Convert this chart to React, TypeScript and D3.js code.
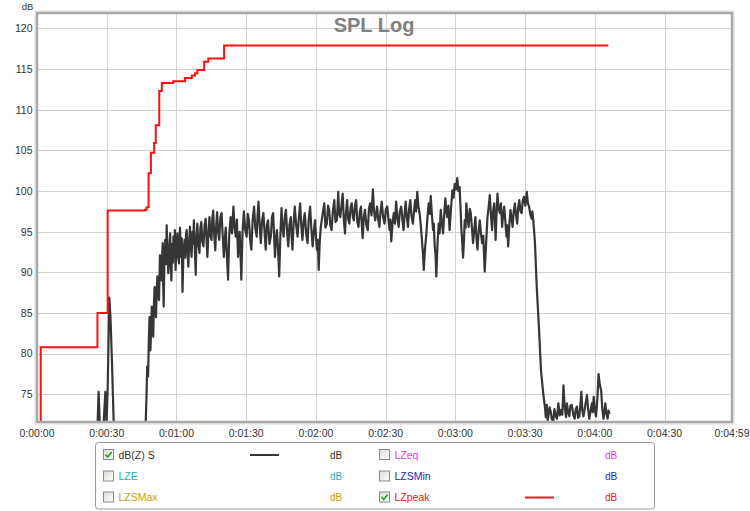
import React from 'react';
import * as d3 from 'd3';

const W = 750;
const H = 511;

// Axis ticks
const yTicks = [75, 80, 85, 90, 95, 100, 105, 110, 115, 120];
const xTicks = [0, 30, 60, 90, 120, 150, 180, 210, 240, 270, 299];
const xTickLabels = ['0:00:00', '0:00:30', '0:01:00', '0:01:30', '0:02:00', '0:02:30', '0:03:00', '0:03:30', '0:04:00', '0:04:30', '0:04:59'];

// LZpeak (step) [seconds, dB]
const lzPeak: [number, number][] = [
  [1.5, 60], [1.6, 80.8], [26.0, 85.0], [30.4, 97.6], [46.5, 97.7], [47.2, 98.0],
  [48.0, 102.2], [49.0, 104.7], [50.4, 105.9], [51.1, 108.1], [52.6, 112.3], [53.7, 113.3],
  [58.6, 113.5], [63.7, 113.9], [66.6, 114.2], [68.0, 114.5], [69.0, 114.9], [71.9, 115.9],
  [73.7, 116.3], [80.5, 117.9], [245.8, 117.9],
];

// dB(Z) S [seconds, dB]
const dbzS: [number, number][] = [
  [25.0, 66], [25.8, 69], [26.5, 75.3], [27.2, 70], [28.0, 68.5], [28.6, 71], [29.4, 75.3], [29.9, 71.5],
  [30.4, 75.5], [31.1, 86.9], [31.6, 84.6], [32.3, 78.5], [33.1, 70.5], [33.8, 64], [40, 60], [46.0, 64],
  [46.6, 70], [47.1, 74.7], [47.4, 78.4], [47.8, 77.2], [48.1, 81.5], [48.4, 84.5], [48.8, 80.4], [49.1, 83.0],
  [49.4, 85.8], [49.7, 83.5], [50.0, 82.1], [50.3, 86.0], [50.6, 88.2], [50.9, 86.2], [51.2, 84.5], [51.5, 87.8],
  [51.8, 89.5], [52.1, 87.5], [52.5, 86.6], [52.7, 89.5], [52.9, 92.1], [53.2, 90.5], [53.5, 89.0], [53.8, 91.8],
  [54.1, 93.6], [54.3, 88.5], [54.5, 85.8], [54.8, 91.5], [55.2, 94.0], [55.5, 91.0], [55.8, 95.8], [56.1, 92.5],
  [56.5, 89.9], [56.9, 93.0], [57.3, 94.8], [57.5, 91.5], [57.8, 89.0], [58.2, 93.5], [58.5, 91.2], [58.7, 94.4],
  [59.1, 92.0], [59.3, 95.2], [59.6, 90.3], [60.0, 93.2], [60.4, 94.8], [60.7, 92.0], [61.1, 91.1], [61.5, 95.5],
  [61.8, 93.0], [62.0, 91.9], [62.3, 94.2], [62.6, 87.6], [63.0, 92.5], [63.5, 94.0], [63.8, 91.8], [64.1, 94.5],
  [64.4, 95.2], [64.8, 92.5], [65.1, 90.7], [65.5, 93.8], [65.8, 95.6], [66.2, 93.0], [66.5, 91.9], [66.9, 95.0],
  [67.2, 93.5], [67.5, 96.4], [67.9, 92.8], [68.3, 89.7], [68.6, 94.2], [69.0, 96.0], [69.4, 93.5], [69.9, 92.4],
  [70.3, 95.5], [70.7, 96.2], [71.1, 93.8], [71.6, 93.2], [72.1, 95.8], [72.6, 96.6], [72.9, 94.2], [73.3, 91.9],
  [73.8, 95.2], [74.2, 96.8], [74.6, 94.5], [75.1, 94.0], [75.4, 96.5], [75.8, 97.6], [76.2, 94.8], [76.7, 92.7],
  [77.1, 95.8], [77.5, 97.4], [77.9, 95.0], [78.4, 94.0], [78.9, 96.8], [79.4, 97.3], [79.9, 94.5], [80.4, 91.9],
  [80.8, 94.0], [81.2, 95.5], [81.7, 92.0], [82.2, 89.1], [82.7, 94.5], [83.3, 96.8], [83.9, 94.8], [84.5, 98.1],
  [85.0, 95.5], [85.5, 94.4], [86.0, 96.5], [86.5, 91.9], [87.2, 95.0], [87.6, 92.0], [87.9, 89.1], [88.4, 94.8],
  [89.0, 97.5], [89.6, 95.2], [90.2, 94.4], [90.7, 97.2], [91.2, 96.4], [91.7, 94.0], [92.2, 92.8], [92.8, 96.5],
  [93.4, 98.1], [93.9, 95.5], [94.5, 94.4], [94.9, 97.0], [95.3, 98.7], [95.8, 95.8], [96.3, 93.6], [96.8, 96.2],
  [97.4, 97.3], [97.9, 95.0], [98.4, 92.8], [98.9, 95.8], [99.4, 96.4], [100.0, 93.5], [100.6, 94.4], [101.1, 96.8],
  [101.6, 97.3], [102.0, 94.5], [102.4, 91.9], [102.8, 94.0], [103.2, 95.2], [103.7, 93.0], [104.2, 89.5], [104.7, 94.5],
  [105.2, 97.9], [105.6, 95.5], [106.1, 94.4], [106.6, 96.8], [107.1, 97.7], [107.6, 95.0], [108.1, 93.2], [108.6, 95.8],
  [109.2, 96.8], [109.5, 94.5], [109.9, 92.8], [110.4, 96.0], [110.9, 98.1], [111.5, 95.8], [112.1, 94.4], [112.6, 96.5],
  [113.2, 98.5], [113.7, 95.8], [114.2, 94.0], [114.7, 96.2], [115.2, 97.3], [115.8, 94.8], [116.4, 93.6], [116.9, 96.5],
  [117.5, 98.1], [118.0, 95.5], [118.6, 93.2], [119.1, 95.0], [119.6, 96.4], [120.0, 94.5], [120.4, 92.8], [120.8, 94.0],
  [121.2, 90.3], [121.6, 93.5], [122.1, 95.6], [122.8, 97.0], [123.6, 98.5], [124.1, 95.5], [124.7, 96.0], [125.2, 98.2],
  [125.7, 97.7], [126.2, 95.8], [126.7, 95.2], [127.3, 97.5], [127.9, 98.9], [128.4, 96.2], [129.0, 96.4], [129.3, 98.0],
  [129.6, 99.9], [130.0, 97.2], [130.5, 96.8], [131.0, 98.2], [131.5, 99.7], [132.0, 96.5], [132.5, 94.8], [132.9, 97.2],
  [133.4, 98.9], [133.9, 96.5], [134.4, 96.0], [134.9, 98.0], [135.4, 98.5], [135.9, 96.8], [136.3, 96.4], [136.8, 98.2],
  [137.3, 98.9], [137.8, 96.2], [138.3, 95.6], [138.9, 97.5], [139.4, 98.1], [139.7, 96.0], [140.1, 94.2], [140.6, 96.8],
  [141.1, 97.7], [141.7, 95.8], [142.3, 95.2], [142.8, 97.8], [143.3, 98.5], [143.9, 97.0], [144.5, 100.2], [145.0, 97.5],
  [145.5, 96.4], [145.9, 97.2], [146.3, 98.1], [146.8, 96.5], [147.3, 95.6], [147.8, 97.5], [148.3, 98.7], [148.9, 96.8],
  [149.5, 96.0], [150.1, 97.8], [150.7, 98.1], [151.2, 96.5], [151.7, 95.2], [152.0, 96.5], [152.4, 93.8], [153.0, 96.2],
  [153.5, 97.3], [154.0, 96.0], [154.5, 98.7], [155.0, 96.8], [155.6, 95.6], [156.1, 97.5], [156.7, 98.1], [157.2, 96.5],
  [157.7, 95.2], [158.1, 97.0], [158.6, 98.7], [159.1, 96.8], [159.6, 95.6], [160.1, 97.8], [160.6, 98.9], [161.1, 97.0],
  [161.7, 96.0], [162.2, 97.5], [162.7, 98.9], [163.1, 97.5], [163.6, 99.9], [164.1, 98.0], [164.6, 97.3], [165.1, 95.8],
  [165.6, 94.0], [166.0, 92.5], [166.4, 90.3], [166.9, 92.8], [167.4, 94.4], [168.0, 96.8], [168.5, 98.5], [169.0, 97.2],
  [169.4, 99.4], [169.9, 97.0], [170.4, 95.2], [170.7, 96.0], [171.1, 93.2], [171.5, 92.0], [171.8, 89.5], [172.3, 93.5],
  [172.8, 96.0], [173.2, 94.8], [173.7, 97.7], [174.2, 96.0], [174.7, 94.8], [175.2, 97.2], [175.7, 99.1], [176.1, 97.5],
  [176.5, 96.8], [177.0, 98.2], [177.5, 95.2], [178.1, 97.8], [178.7, 100.1], [179.2, 99.2], [179.7, 100.9], [180.3, 100.2],
  [180.8, 101.6], [181.3, 100.0], [181.8, 100.5], [182.2, 98.0], [182.6, 95.2], [183.0, 93.5], [183.3, 91.8], [183.7, 94.0],
  [184.0, 96.4], [184.4, 95.5], [184.7, 98.5], [185.2, 96.8], [185.7, 95.6], [186.2, 97.8], [186.6, 97.3], [187.1, 95.5],
  [187.6, 93.6], [188.1, 95.2], [188.6, 96.8], [189.0, 94.5], [189.5, 92.8], [190.0, 95.0], [190.5, 96.4], [191.0, 94.8],
  [191.5, 93.6], [192.0, 94.5], [192.6, 90.1], [193.2, 93.5], [193.8, 96.8], [194.3, 98.0], [194.8, 99.5], [195.3, 97.0],
  [195.8, 95.2], [196.2, 97.5], [196.7, 98.5], [197.0, 96.5], [197.3, 94.0], [197.7, 97.2], [198.1, 99.7], [198.6, 97.8],
  [199.1, 97.3], [199.6, 98.5], [200.1, 95.6], [200.5, 97.0], [201.0, 98.1], [201.5, 96.2], [202.0, 94.4], [202.3, 95.8],
  [202.7, 93.2], [203.2, 95.8], [203.7, 97.7], [204.1, 96.8], [204.6, 95.6], [205.1, 97.5], [205.6, 98.5], [206.1, 97.0],
  [206.6, 96.0], [207.0, 98.0], [207.5, 98.9], [208.0, 97.5], [208.5, 97.3], [209.0, 98.8], [209.5, 99.3], [210.1, 98.2],
  [210.7, 99.9], [211.2, 98.5], [211.7, 98.1], [212.2, 97.2], [212.8, 96.6], [213.1, 97.5], [213.5, 96.4], [214.2, 93.8],
  [215.0, 88.2], [216.0, 82.9], [216.8, 78.0], [217.8, 75.1], [218.5, 73.5], [218.9, 72.2], [219.3, 73.7], [219.7, 71.8],
  [220.0, 72.3], [220.5, 73.4], [221.0, 72.9], [221.5, 71.9], [222.1, 71.8], [222.6, 73.2], [223.2, 72.3], [223.7, 72.0],
  [224.3, 73.9], [224.9, 72.4], [225.5, 73.1], [226.0, 72.5], [226.5, 76.1], [226.9, 74.0], [227.2, 73.1], [227.6, 72.2],
  [228.0, 73.9], [228.5, 72.8], [229.0, 72.3], [229.5, 73.6], [230.1, 73.7], [230.7, 72.5], [231.3, 72.0], [231.8, 73.2],
  [232.3, 73.5], [232.8, 72.1], [233.3, 72.3], [233.8, 73.8], [234.2, 75.3], [234.6, 73.0], [235.1, 72.3], [235.8, 73.5],
  [236.6, 74.9], [237.1, 73.2], [237.6, 72.0], [238.2, 73.0], [238.7, 73.9], [239.1, 72.8], [239.5, 74.7], [240.0, 73.0],
  [240.5, 72.3], [241.1, 74.5], [241.6, 77.5], [242.1, 76.2], [242.7, 75.5], [243.2, 73.2], [243.7, 72.0], [244.1, 72.8],
  [244.5, 73.9], [245.0, 72.6], [245.5, 72.0], [245.9, 73.0], [246.3, 72.6],
];

// Legend
const legendLabels = ['dB(Z) S', 'LZE', 'LZSMax', 'LZeq', 'LZSMin', 'LZpeak'];
const legendChecked = [true, false, false, false, false, true];
const legendUnit = 'dB';

const legendColors = ['#333333', '#1fb0c2', '#c8a010', '#e838e8', '#2424d8', '#e82020'];

const FONT = '"Liberation Sans", Arial, sans-serif';

export default function App() {
  const left = 37, top = 13, right = 732, bottom = 422;
  const x = d3.scaleLinear().domain([0, 299]).range([left, right]);
  const y = d3.scaleLinear().domain([71.6, 121.9]).range([bottom, top]);

  const blackLine = d3.line<[number, number]>().x(d => x(d[0])).y(d => y(d[1])).curve(d3.curveLinear);
  const redLine = d3.line<[number, number]>().x(d => x(d[0])).y(d => y(d[1])).curve(d3.curveStepAfter);

  const legendX = 95.5, legendY = 442.5, legendW = 559, legendH = 66.5;
  const rowY = [455, 476.5, 497.5];
  const colX = [103.5, 379.5];
  const unitX = [336, 611];
  const sampleX = [250, 525];

  return (
    <svg width={W} height={H} style={{ position: 'absolute', left: 0, top: 0, display: 'block', background: '#fff' }} fontFamily={FONT}>
      <defs>
        <clipPath id="plotClip">
          <rect x={left} y={top} width={right - left} height={bottom - top} />
        </clipPath>
        <linearGradient id="cbFill" x1="0" y1="0" x2="1" y2="1">
          <stop offset="0" stopColor="#dcdcd4" />
          <stop offset="1" stopColor="#ffffff" />
        </linearGradient>
      </defs>
      <rect x={0} y={0} width={W} height={H} fill="#fff" />

      {/* grid */}
      <g stroke="#d2d2d2" strokeWidth={1}>
        {yTicks.map(t => (
          <line key={'gy' + t} x1={left} x2={right} y1={Math.round(y(t)) + 0.5} y2={Math.round(y(t)) + 0.5} />
        ))}
        {xTicks.map(t => (
          <line key={'gx' + t} x1={Math.round(x(t)) + 0.5} x2={Math.round(x(t)) + 0.5} y1={top} y2={bottom} />
        ))}
      </g>

      {/* title */}
      <text x={374} y={32} textAnchor="middle" fontSize={20} fontWeight="bold" fill="#808080">SPL Log</text>

      {/* series */}
      <g clipPath="url(#plotClip)">
        <path d={blackLine(dbzS) || ''} fill="none" stroke="#363636" strokeWidth={2.2} strokeLinejoin="round" />
        <path d={redLine(lzPeak) || ''} fill="none" stroke="#ff1010" strokeWidth={2} />
      </g>

      {/* frame */}
      <rect x={left - 2} y={top - 2} width={right - left + 4} height={bottom - top + 4} fill="none" stroke="#dadada" strokeWidth={1} />
      <rect x={left} y={top} width={right - left} height={bottom - top} fill="none" stroke="#a8a8a8" strokeWidth={2.5} />

      {/* y labels */}
      <text x={27.5} y={9.5} textAnchor="middle" fontSize={9.5} fill="#333">dB</text>
      {yTicks.map(t => (
        <text key={'yl' + t} x={32.5} y={y(t) + 3.8} textAnchor="end" fontSize={10.5} fill="#333">{t}</text>
      ))}

      {/* x labels */}
      {xTicks.map((t, i) => (
        <text key={'xl' + t} x={x(t)} y={436.5} textAnchor="middle" fontSize={10.5} fill="#333">{xTickLabels[i]}</text>
      ))}

      {/* legend */}
      <rect x={legendX} y={legendY} width={legendW} height={legendH} rx={3} fill="#fff" stroke="#9a9a9a" strokeWidth={1} />
      {legendLabels.map((lab, i) => {
        const col = i < 3 ? 0 : 1;
        const row = i % 3;
        const cy = rowY[row];
        const bx = colX[col];
        const by = cy - 5.5;
        const color = legendColors[i];
        return (
          <g key={lab}>
            <rect x={bx} y={by} width={10} height={10} fill="url(#cbFill)" stroke="#7c8c9c" strokeWidth={1} />
            {legendChecked[i] && (
              <path d={`M${bx + 2},${by + 5} L${bx + 4.2},${by + 7.5} L${bx + 8.2},${by + 2.5}`} fill="none" stroke="#22a022" strokeWidth={1.6} />
            )}
            <text x={bx + 15} y={cy + 3.8} fontSize={10.5} fill={color}>{lab}</text>
            {legendChecked[i] && (
              <line x1={sampleX[col]} x2={sampleX[col] + 29} y1={cy} y2={cy} stroke={i === 0 ? '#363636' : '#e02020'} strokeWidth={2} />
            )}
            <text x={unitX[col]} y={cy + 3.8} textAnchor="middle" fontSize={10} fill={color}>{legendUnit}</text>
          </g>
        );
      })}
    </svg>
  );
}
